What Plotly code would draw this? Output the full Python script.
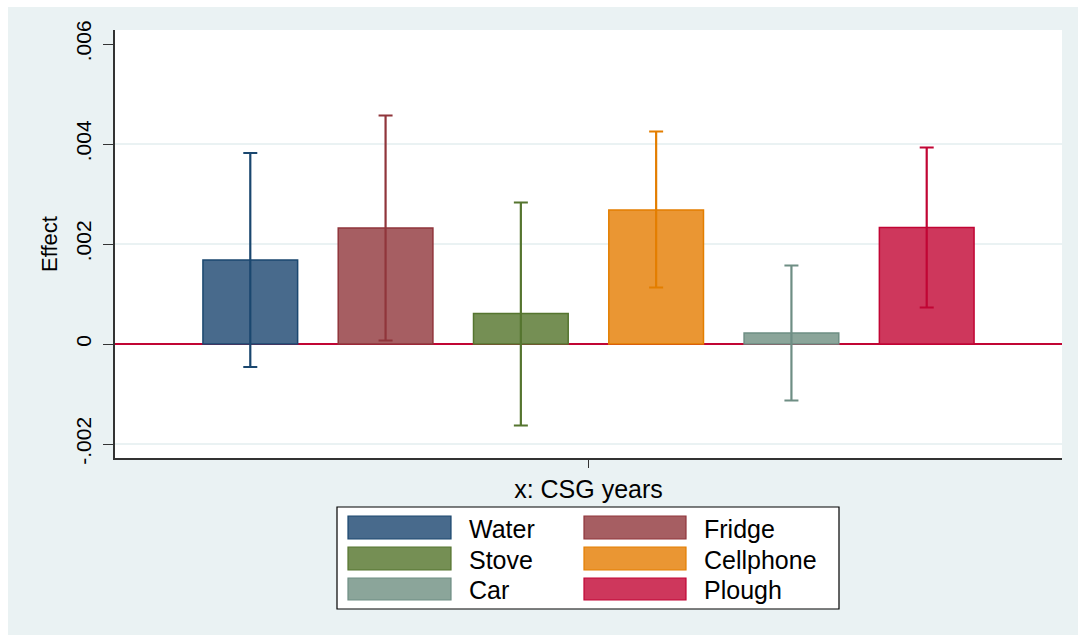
import plotly.graph_objects as go

# Estimated effects of CSG years on household assets, with 95% CIs
assets = ["Water", "Fridge", "Stove", "Cellphone", "Car", "Plough"]
effect = [0.00168, 0.00232, 0.00061, 0.00268, 0.00022, 0.00233]
ci_low = [-0.00046, 0.00007, -0.00163, 0.00113, -0.00113, 0.00073]
ci_high = [0.00382, 0.00457, 0.00283, 0.00425, 0.00157, 0.00393]

y_tickvals = [-0.002, 0, 0.002, 0.004, 0.006]
y_ticktext = ["-.002", "0", ".002", ".004", ".006"]
grid_vals = [-0.002, 0.002, 0.004]
x_label = "x: CSG years"

fill_colors = ["#486A8C", "#A65E62", "#758F54", "#EA9633", "#8BA59A", "#CE375C"]
line_colors = ["#1A476F", "#90353B", "#55752F", "#E37E00", "#6E8E84", "#C10534"]

BG = "#EAF2F3"
W, H = 1078, 635
ML, MR, MT, MB = 115, 16, 30, 177
PW, PH = W - ML - MR, H - MT - MB


def px(xp):
    return (xp - ML) / PW


def py(yp):
    return (H - MB - yp) / PH


fig = go.Figure()
for i, name in enumerate(assets):
    fig.add_trace(go.Bar(
        x=[i + 1], y=[effect[i]], width=0.7, name=name,
        marker=dict(color=fill_colors[i], line=dict(color=line_colors[i], width=1.5)),
        error_y=dict(type="data", symmetric=False,
                     array=[ci_high[i] - effect[i]],
                     arrayminus=[effect[i] - ci_low[i]],
                     color=line_colors[i], thickness=2.2, width=7),
        showlegend=False,
    ))

shapes = []
# white edge strips around the graph region
shapes.append(dict(type="rect", xref="paper", yref="paper", x0=px(0), x1=px(8),
                   y0=py(H), y1=py(0), fillcolor="white", line_width=0, layer="below"))
shapes.append(dict(type="rect", xref="paper", yref="paper", x0=px(0), x1=px(W),
                   y0=py(7), y1=py(0), fillcolor="white", line_width=0, layer="below"))
# gridlines
for g in grid_vals:
    shapes.append(dict(type="line", xref="paper", yref="y", x0=0, x1=1, y0=g, y1=g,
                       line=dict(color=BG, width=2), layer="below"))
# reference line at zero
shapes.append(dict(type="line", xref="paper", yref="y", x0=0, x1=1, y0=0, y1=0,
                   line=dict(color="#C10534", width=2), layer="below"))

# legend box with two columns
shapes.append(dict(type="rect", xref="paper", yref="paper", x0=px(337), x1=px(839),
                   y0=py(609), y1=py(507), fillcolor="white",
                   line=dict(color="black", width=1.2)))
annotations = []
col_sw = [(348, 451), (584, 686)]
col_tx = [467, 702]
row_y = [(516, 539), (547, 570), (578, 600)]
for i, name in enumerate(assets):
    r, c = divmod(i, 2)
    shapes.append(dict(type="rect", xref="paper", yref="paper",
                       x0=px(col_sw[c][0]), x1=px(col_sw[c][1]),
                       y0=py(row_y[r][1]), y1=py(row_y[r][0]),
                       fillcolor=fill_colors[i],
                       line=dict(color=line_colors[i], width=1.2)))
    annotations.append(dict(xref="paper", yref="paper", x=px(col_tx[c]),
                            y=py((row_y[r][0] + row_y[r][1]) / 2 + 1),
                            text=name, showarrow=False, xanchor="left", yanchor="middle",
                            font=dict(size=25, color="black")))

fig.update_layout(
    width=W, height=H,
    margin=dict(l=ML, r=MR, t=MT, b=MB),
    paper_bgcolor=BG, plot_bgcolor="white",
    font=dict(family="Liberation Sans, Arial, sans-serif", color="black"),
    barmode="overlay",
    shapes=shapes, annotations=annotations,
    xaxis=dict(range=[0, 7], tickvals=[3.5], ticktext=[x_label],
               ticks="outside", ticklen=8, tickwidth=1, tickcolor="#333",
               tickfont=dict(size=25), ticklabelstandoff=0,
               showgrid=False, zeroline=False,
               showline=True, linecolor="#333", linewidth=1.5, fixedrange=True),
    yaxis=dict(range=[-0.00228, 0.00628], tickvals=y_tickvals, ticktext=y_ticktext,
               tickangle=-90, ticks="outside", ticklen=10, tickwidth=1, tickcolor="#333",
               tickfont=dict(size=21), ticklabelstandoff=4,
               showgrid=False, zeroline=False,
               showline=True, linecolor="#333", linewidth=1.5,
               title=dict(text="Effect", font=dict(size=22), standoff=8)),
)

fig.write_html("out.html")
